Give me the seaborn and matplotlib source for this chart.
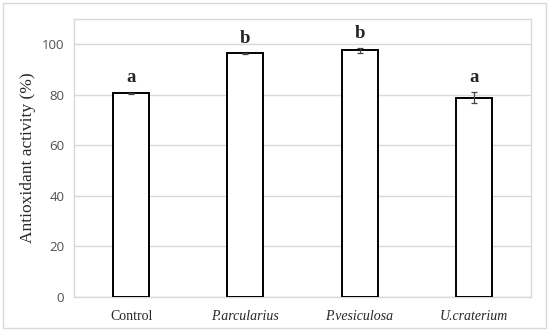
import matplotlib
matplotlib.use("Agg")
import matplotlib.pyplot as plt
import matplotlib.patches as mpatches
import seaborn as sns
import pandas as pd
import numpy as np

samples = ["Control", "P.arcularius", "P.vesiculosa", "U.craterium"]
activity = [80.6, 96.4, 97.6, 78.8]
errors = [0.3, 0.2, 0.9, 2.2]
letters = ["a", "b", "b", "a"]

df = pd.DataFrame({"Sample": samples, "Activity": activity})

sns.set_style("white")
fig = plt.figure(figsize=(5.5, 3.31), dpi=100)
ax = fig.add_axes([74 / 550, 1 - 297 / 331, 457 / 550, 278 / 331])

sns.barplot(data=df, x="Sample", y="Activity", color="white", edgecolor="black",
            linewidth=1.4, width=0.315, errorbar=None, ax=ax, zorder=3)
ax.errorbar(np.arange(len(samples)), activity, yerr=errors, fmt="none",
            ecolor="#444444", elinewidth=0.9, capsize=2.5, capthick=0.9, zorder=4)

for i, (v, e, s) in enumerate(zip(activity, errors, letters)):
    ax.text(i, v + e + 2.5, s, ha="center", va="bottom", fontsize=13.5,
            fontweight="bold", family="Liberation Serif")

ax.set_xlim(-0.5, 3.5)
ax.set_ylim(0, 110)
ax.set_yticks(range(0, 101, 20))
ax.yaxis.grid(True, color="#d9d9d9", linewidth=1, zorder=0)
ax.set_axisbelow(True)
for sp in ax.spines.values():
    sp.set_color("#d9d9d9")
    sp.set_linewidth(1)
ax.tick_params(axis="x", length=0, pad=9)
ax.tick_params(axis="y", length=0, pad=7, labelsize=9.5, labelcolor="#505050")
for lab in ax.get_yticklabels():
    lab.set_family("Open Sans")
ax.set_xticks(range(len(samples)))
ax.set_xticklabels(samples, family="Liberation Serif", fontsize=10)
for lab in ax.get_xticklabels()[1:]:
    lab.set_style("italic")
ax.set_xlabel("")
ax.set_ylabel("Antioxidant activity (%)", family="Liberation Serif", fontsize=12.5, labelpad=4)

fig.patches.append(mpatches.Rectangle((3 / 550, 3 / 331), 543 / 550, 325 / 331,
                                      transform=fig.transFigure, fill=False,
                                      edgecolor="#d9d9d9", linewidth=1))
fig.savefig("out.png", dpi=100)
